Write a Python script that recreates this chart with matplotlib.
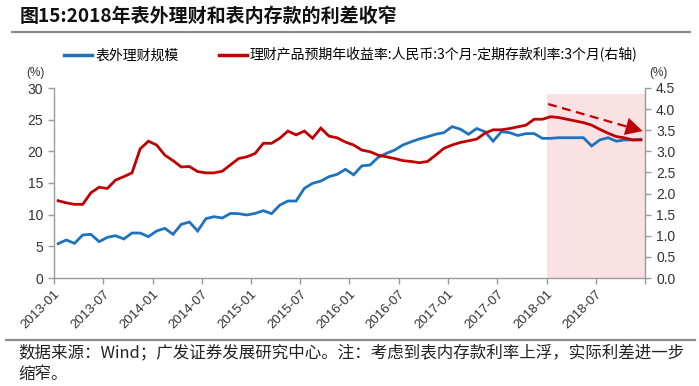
import matplotlib
matplotlib.use("Agg")
import matplotlib.pyplot as plt
from matplotlib.lines import Line2D
import numpy as np

plt.rcParams['font.family'] = ['Liberation Sans', 'Noto Sans CJK SC', 'DejaVu Sans']

# ---- data ----
months = [f"{y}-{m:02d}" for y in range(2013, 2019) for m in range(1, 13)]
tick_labels = ["2013-01", "2013-07", "2014-01", "2014-07", "2015-01", "2015-07",
               "2016-01", "2016-07", "2017-01", "2017-07", "2018-01", "2018-07"]

offbalance_wmp = [5.42, 6.0, 5.47, 6.79, 6.89, 5.74, 6.42, 6.68, 6.16, 7.1, 7.1, 6.53,
                  7.42, 7.84, 6.9, 8.47, 8.84, 7.42, 9.37, 9.68, 9.47, 10.2, 10.16, 9.95,
                  10.2, 10.63, 10.16, 11.5, 12.16, 12.16, 14.16, 14.95, 15.3, 16.0, 16.37, 17.16,
                  16.3, 17.7, 17.84, 19.05, 19.68, 20.2, 21.0, 21.5, 21.95, 22.3, 22.7, 22.95,
                  23.9, 23.5, 22.7, 23.6, 23.1, 21.6, 23.1, 22.95, 22.5, 22.8, 22.8, 22.05,
                  22.05, 22.15, 22.15, 22.15, 22.15, 20.85, 21.8, 22.15, 21.6, 21.8, 21.8, 21.9]

spread = [1.83, 1.78, 1.745, 1.745, 2.02, 2.15, 2.12, 2.32, 2.40, 2.49, 3.06, 3.24,
          3.15, 2.91, 2.78, 2.63, 2.64, 2.52, 2.49, 2.49, 2.53, 2.68, 2.83, 2.87,
          2.95, 3.19, 3.19, 3.31, 3.48, 3.39, 3.48, 3.31, 3.55, 3.36, 3.32, 3.22,
          3.15, 3.03, 2.99, 2.91, 2.87, 2.83, 2.78, 2.76, 2.73, 2.76, 2.91, 3.07,
          3.15, 3.21, 3.25, 3.29, 3.43, 3.51, 3.51, 3.54, 3.58, 3.62, 3.76, 3.76,
          3.82, 3.80, 3.76, 3.72, 3.68, 3.62, 3.52, 3.43, 3.35, 3.32, 3.27, 3.27]

shade_start = "2018-01"
shade_top = 4.36
arrow_start = 4.12
arrow_end = 3.48

labels = ["表外理财规模", "理财产品预期年收益率:人民币:3个月-定期存款利率:3个月(右轴)"]

BLUE = "#1F72BE"
RED = "#C00000"
GRAY = "#9A9A9A"
TXT = "#333333"

W, H = 699, 386
fig = plt.figure(figsize=(W / 100, H / 100), dpi=100)

L, R, B, T = 54, 645, 278, 88
ax = fig.add_axes([L / W, 1 - B / H, (R - L) / W, (B - T) / H])
ax2 = ax.twinx()

n = len(months)
x = np.arange(n) + 0.5
si = months.index(shade_start)

ax.axvspan(si, n, ymin=0, ymax=shade_top / 4.5, color="#FAE1E3", lw=0, zorder=0)
ax.plot(x, offbalance_wmp, color=BLUE, lw=2.0, zorder=3, solid_joinstyle='miter')
ax2.plot(x, spread, color=RED, lw=2.0, zorder=3, solid_joinstyle='miter')

# dashed arrow: dashed shaft + solid head
x0, y0 = si + 0.2, arrow_start
x1, y1 = n - 0.3, arrow_end
t = 0.88
ax2.plot([x0, x0 + t * (x1 - x0)], [y0, y0 + t * (y1 - y0)], color=RED, lw=1.6,
         linestyle=(0, (4, 2.5)), zorder=4)
tb = 0.8
ax2.annotate("", xy=(x1, y1), xytext=(x0 + tb * (x1 - x0), y0 + tb * (y1 - y0)),
             arrowprops=dict(arrowstyle="-|>,head_length=0.8,head_width=0.42",
                             color=RED, lw=0.1, shrinkA=0, shrinkB=0, mutation_scale=15),
             zorder=4)

ax.set_xlim(0, n)
ax.set_ylim(0, 30)
ax2.set_ylim(0, 4.5)
ax.set_yticks(np.arange(0, 31, 5))
ax2.set_yticks(np.arange(0, 4.51, 0.5))
ax2.set_yticklabels([f"{v:.1f}" for v in np.arange(0, 4.51, 0.5)])

tick_pos = [months.index(t) for t in tick_labels] + [n]
ax.set_xticks(tick_pos)
ax.set_xticklabels(tick_labels + [""], rotation=45, ha="right", rotation_mode="anchor")

for a in (ax, ax2):
    a.spines["top"].set_visible(False)
    for s in ("left", "right", "bottom"):
        a.spines[s].set_color(GRAY)
        a.spines[s].set_linewidth(1.0)
    a.tick_params(colors=GRAY, labelcolor=TXT, labelsize=10, length=4, width=1.0)
ax.spines["right"].set_visible(False)
ax2.spines["left"].set_visible(False)
ax2.spines["bottom"].set_visible(False)
ax.tick_params(axis="x", labelsize=9.5, pad=3)
ax.tick_params(axis="y", pad=4)
ax2.tick_params(axis="y", pad=4)
ax.set_zorder(1)
ax2.set_zorder(2)
ax2.patch.set_visible(False)

# legend
handles = [Line2D([], [], color=BLUE, lw=2.5), Line2D([], [], color=RED, lw=2.5)]
fig.legend(handles, labels, loc="center left", bbox_to_anchor=(64 / W, 1 - 55 / H),
           ncol=2, frameon=False, handlelength=2.0, handletextpad=0.25, columnspacing=2.9,
           borderpad=0, borderaxespad=0,
           prop={"family": ["Noto Sans CJK SC"], "size": 10})

fig.text(35 / W, 1 - 73 / H, "(%)", ha="center", va="center", fontsize=8.5, color=TXT)
fig.text(658 / W, 1 - 73 / H, "(%)", ha="center", va="center", fontsize=8.5, color=TXT)

# title
fig.text(20 / W, 1 - 16 / H, "图15:2018年表外理财和表内存款的利差收窄", ha="left", va="center",
         fontsize=13.7, fontweight="bold", color="#111111",
         family=["Noto Sans CJK SC"])
fig.add_artist(Line2D([12 / W, 690 / W], [1 - 32 / H, 1 - 32 / H], color="#8C8C8C", lw=1.6))
fig.add_artist(Line2D([6 / W, 695 / W], [1 - 340 / H, 1 - 340 / H], color="#8C8C8C", lw=1.6))

fig.text(18 / W, 1 - 353 / H,
         "数据来源：Wind；广发证券发展研究中心。注：考虑到表内存款利率上浮，实际利差进一步",
         ha="left", va="center", fontsize=11.9, color="#222222", family=["Noto Sans CJK SC"])
fig.text(18 / W, 1 - 375 / H, "缩窄。", ha="left", va="center", fontsize=11.9,
         color="#222222", family=["Noto Sans CJK SC"])

fig.savefig("out.png", dpi=100)
